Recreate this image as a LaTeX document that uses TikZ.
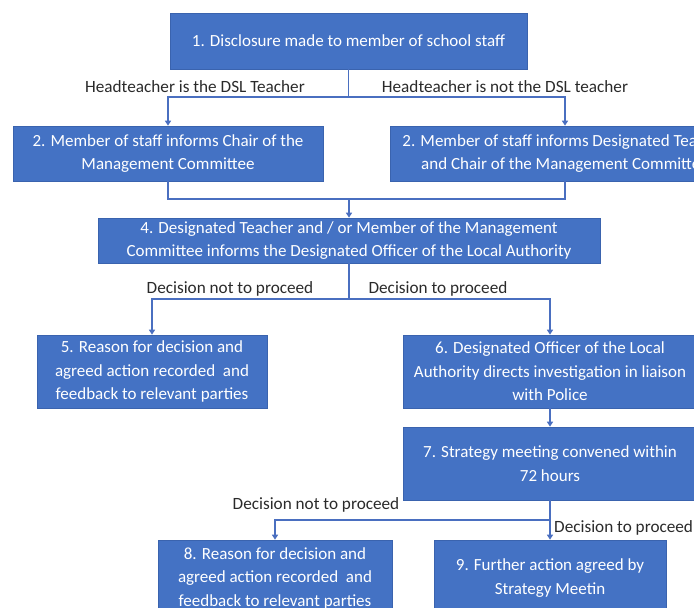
\documentclass[tikz,border=0pt]{standalone}
\usepackage{fontspec}
\setmainfont{Carlito}
\usetikzlibrary{arrows.meta}
\definecolor{boxblue}{HTML}{4472C4}
\definecolor{edgeblue}{HTML}{3A63AE}
\definecolor{linkblue}{HTML}{4A6FC0}
\definecolor{labelgray}{HTML}{2A2A2A}
\begin{document}
\begin{tikzpicture}[x=1pt,y=-1pt,
  stepbox/.style={draw=edgeblue, line width=0.6pt, fill=boxblue, text=white, align=center, inner sep=0pt, font=\fontsize{17}{23.5}\selectfont},
  link/.style={draw=linkblue, line width=1.8pt},
  arr/.style={link, -{Triangle[length=5pt,width=6pt]}},
  lbl/.style={text=labelgray, inner sep=0pt, font=\fontsize{17.2}{20}\selectfont}]
\useasboundingbox (0,0) rectangle (694,608);
\clip (0,0) rectangle (694,608);

\node[stepbox, minimum width=357pt, minimum height=56pt] (n1) at (348.5,41) {1. Disclosure made to member of school staff};
\node[stepbox, minimum width=310pt, minimum height=55pt] (n2l) at (168,153.5) {2. Member of staff informs Chair of the\\Management Committee};
\node[stepbox, minimum width=350pt, minimum height=55pt] (n2r) at (565,153.5) {2. Member of staff informs Designated Teacher\\and Chair of the Management Committee};
\node[stepbox, minimum width=502pt, minimum height=45pt] (n4) at (349,240.5) {4. Designated Teacher and / or Member of the Management\\Committee informs the Designated Officer of the Local Authority};
\node[stepbox, minimum width=230pt, minimum height=73pt] (n5) at (152,371.5) {5. Reason for decision and\\agreed action recorded\ \ and\\feedback to relevant parties};
\node[stepbox, minimum width=294pt, minimum height=73pt] (n6) at (550,371.5) {6. Designated Officer of the Local\\Authority directs investigation in liaison\\with Police};
\node[stepbox, minimum width=294pt, minimum height=73pt] (n7) at (550,463.5) {7. Strategy meeting convened within\\72 hours};
\node[stepbox, minimum width=234pt, minimum height=76pt] (n8) at (275,578) {8. Reason for decision and\\agreed action recorded\ \ and\\feedback to relevant parties};
\node[stepbox, minimum width=232pt, minimum height=76pt] (n9) at (550,578) {9. Further action agreed by\\Strategy Meetin};

\node[lbl] (l1) at (195,87) {Headteacher is the DSL Teacher};
\node[lbl] (l2) at (505,87) {Headteacher is not the DSL teacher};
\node[lbl] (l3) at (230,289) {Decision not to proceed};
\node[lbl] (l4) at (438,289) {Decision to proceed};
\node[lbl] (l5) at (316,505) {Decision not to proceed};
\node[lbl, anchor=west] (l6) at (554,528) {Decision to proceed};

\coordinate (j2) at (349,199);
\draw[arr] (n1.south) -- ++(0,28) -| (n2l.north);
\draw[arr] (n1.south) -- ++(0,28) -| (n2r.north);
\draw[link] (n2l.south) |- (j2) -| (n2r.south);
\draw[arr] (j2) -- (n4.north);
\draw[arr] (n4.south) -- ++(0,36) -| (n5.north);
\draw[arr] (n4.south) -- ++(0,36) -| (n6.north);
\draw[arr] (n6.south) -- (n7.north);
\draw[arr] (n7.south) -- (n9.north);
\draw[arr] (n7.south) -- ++(0,20) -| (n8.north);
\end{tikzpicture}
\end{document}
